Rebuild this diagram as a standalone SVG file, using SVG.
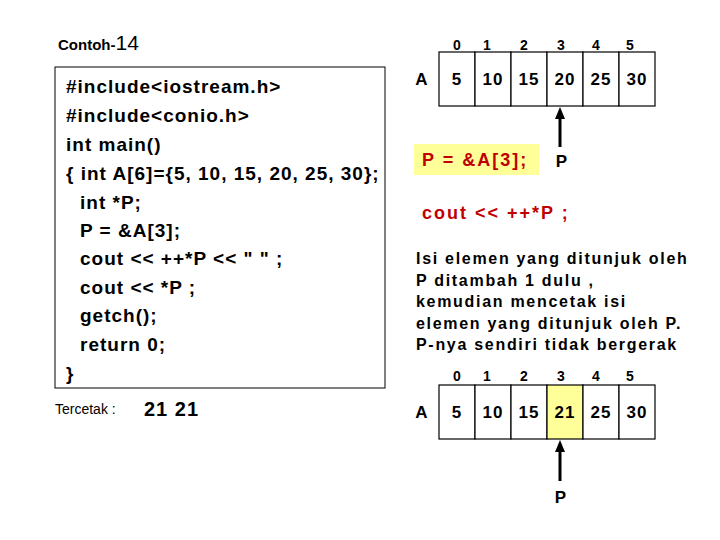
<svg xmlns="http://www.w3.org/2000/svg" width="720" height="540" viewBox="0 0 720 540">
<style>
.c{font-family:"Liberation Sans",Arial,sans-serif;font-weight:bold;font-size:19px;fill:#000;letter-spacing:1px}
.n{font-family:"Liberation Sans",Arial,sans-serif;font-weight:bold;font-size:17px;fill:#000;text-anchor:middle;letter-spacing:1px}
.i{font-family:"Liberation Sans",Arial,sans-serif;font-weight:bold;font-size:14px;fill:#000;text-anchor:middle}
.r{font-family:"Liberation Sans",Arial,sans-serif;font-weight:bold;font-size:18px;fill:#c00000;letter-spacing:2px}
.cell{fill:#fff;stroke:#000;stroke-width:1.2}
</style>
<defs><marker id="ah" markerUnits="userSpaceOnUse" markerWidth="12" markerHeight="12" refX="6" refY="6" orient="auto"><path d="M0,1L12,6L0,11z" fill="#000"/></marker></defs>
<text x="58" y="50" font-family="Liberation Sans,sans-serif" font-weight="bold" font-size="15">Contoh-<tspan font-size="21" font-weight="normal">14</tspan></text>
<g id="code">
<rect x="55" y="67" width="330" height="321" fill="#fff" stroke="#000"/>
<text class="c" x="66" y="93">#include&lt;iostream.h&gt;</text>
<text class="c" x="66" y="122">#include&lt;conio.h&gt;</text>
<text class="c" x="66" y="151">int main()</text>
<text class="c" x="66" y="180">{ int A[6]={5, 10, 15, 20, 25, 30};</text>
<text class="c" x="80" y="209">int *P;</text>
<text class="c" x="80" y="237">P = &amp;A[3];</text>
<text class="c" x="80" y="265">cout &lt;&lt; ++*P &lt;&lt; " " ;</text>
<text class="c" x="80" y="294">cout &lt;&lt; *P ;</text>
<text class="c" x="80" y="322">getch();</text>
<text class="c" x="80" y="351">return 0;</text>
<text class="c" x="66" y="380">}</text>
</g>
<text x="55" y="414" font-family="Liberation Sans,sans-serif" font-size="14">Tercetak :</text>
<text x="144" y="416" font-family="Liberation Sans,sans-serif" font-weight="bold" font-size="20" letter-spacing="1">21 21</text>
<g id="array1">
<text class="n" x="422" y="85" font-size="19">A</text>
<g class="i"><text x="457" y="50">0</text><text x="487" y="50">1</text><text x="524" y="50">2</text><text x="561" y="50">3</text><text x="596" y="50">4</text><text x="630" y="50">5</text></g>
<rect class="cell" x="439" y="52" width="36" height="54"/><rect class="cell" x="475" y="52" width="36" height="54"/><rect class="cell" x="511" y="52" width="36" height="54"/><rect class="cell" x="547" y="52" width="36" height="54"/><rect class="cell" x="583" y="52" width="36" height="54"/><rect class="cell" x="619" y="52" width="36" height="54"/>
<g class="n"><text x="457" y="85">5</text><text x="493" y="85">10</text><text x="529" y="85">15</text><text x="565" y="85">20</text><text x="601" y="85">25</text><text x="637" y="85">30</text></g>
</g>
<g id="p1"><rect x="414" y="144" width="125" height="31" fill="#ffff99"/><text class="r" x="422" y="166">P = &amp;A[3];</text><text class="n" x="562" y="167">P</text></g>
<text class="r" x="422" y="219">cout &lt;&lt; ++*P ;</text>
<g font-family="Liberation Sans,sans-serif" font-weight="bold" font-size="16" letter-spacing="1.7">
<text x="416" y="264">Isi elemen yang ditunjuk oleh</text>
<text x="416" y="286">P ditambah 1  dulu ,</text>
<text x="416" y="307">kemudian mencetak isi</text>
<text x="416" y="329">elemen yang ditunjuk oleh P.</text>
<text x="416" y="350">P-nya sendiri tidak bergerak</text>
</g>
<g id="array2">
<text class="n" x="422" y="418" font-size="19">A</text>
<g class="i"><text x="457" y="381">0</text><text x="487" y="381">1</text><text x="524" y="381">2</text><text x="561" y="381">3</text><text x="596" y="381">4</text><text x="630" y="381">5</text></g>
<rect class="cell" x="439" y="385" width="36" height="54"/><rect class="cell" x="475" y="385" width="36" height="54"/><rect class="cell" x="511" y="385" width="36" height="54"/><rect class="cell" x="547" y="385" width="36" height="54" style="fill:#ffff99"/><rect class="cell" x="583" y="385" width="36" height="54"/><rect class="cell" x="619" y="385" width="36" height="54"/>
<g class="n"><text x="457" y="418">5</text><text x="493" y="418">10</text><text x="529" y="418">15</text><text x="565" y="418">21</text><text x="601" y="418">25</text><text x="637" y="418">30</text></g>
<text class="n" x="561" y="503">P</text>
</g>
<g id="connectors" stroke="#000" stroke-width="3">
<line x1="560" y1="147" x2="560" y2="113" marker-end="url(#ah)"/>
<line x1="560" y1="481" x2="560" y2="446" marker-end="url(#ah)"/>
</g>
</svg>
